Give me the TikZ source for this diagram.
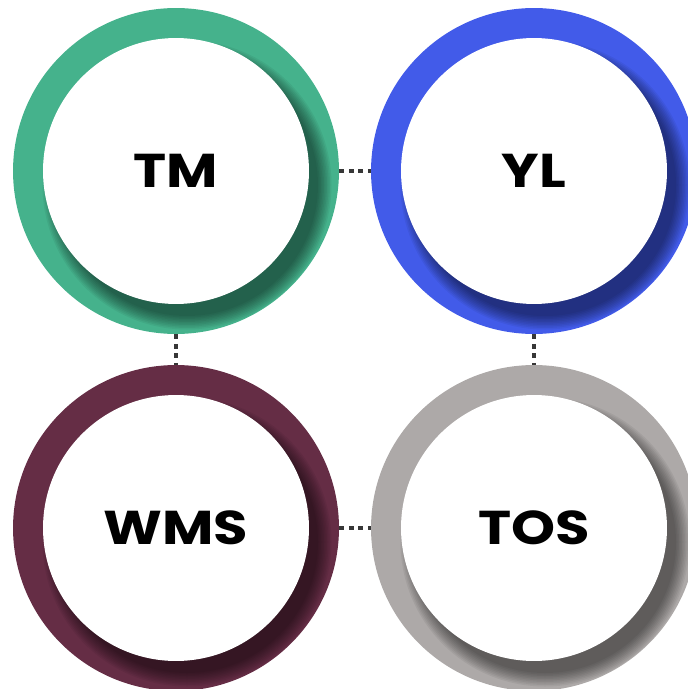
\documentclass[tikz,border=0pt]{standalone}
\usepackage{fontspec}
\setmainfont{Poppins}
\newfontfamily\hubfont{Poppins}[FakeStretch=1.18]
\definecolor{tmgreen}{RGB}{69,178,140}
\definecolor{ylblue}{RGB}{66,91,233}
\definecolor{wmsred}{RGB}{101,45,69}
\definecolor{tosgray}{RGB}{173,169,168}
\definecolor{dotgray}{RGB}{55,55,55}
\tikzset{
  ring/.style={circle, inner sep=0pt, minimum size=6.52cm, fill=#1},
  hole/.style={circle, inner sep=0pt, minimum size=5.32cm, fill=white,
    font=\fontsize{27}{27}\hubfont\bfseries},
  link/.style={dotgray, line width=2.8pt, dash pattern=on 2.8pt off 2.6pt}
}
\begin{document}
\begin{tikzpicture}[x=0.02cm, y=-0.02cm]
      \useasboundingbox (0,0) rectangle (687,689);
      \foreach \x/\y/\nm/\col/\txt in {176/171/tm/tmgreen/TM, 534/171/yl/ylblue/YL,
                                       176/528/wms/wmsred/WMS, 534/528/tos/tosgray/TOS}{
        \node[ring=\col] (\nm) at (\x,\y) {};
        % soft shadow of the white disc, lower right only
        \begin{scope}
          \clip (\x,\y) circle[radius=162];
          \foreach \k in {0,...,9}
            \fill[black, opacity=0.055] (\x+11,\y+14) circle[radius=131+1.5*\k];
        \end{scope}
        \node[hole] (\nm-in) at (\x,\y) {\txt};
      }
      \draw[link] (tm.east) -- (yl.west);
      \draw[link] (wms.east) -- (tos.west);
      \draw[link] (tm.south) -- (wms.north);
      \draw[link] (yl.south) -- (tos.north);
\end{tikzpicture}
\end{document}
